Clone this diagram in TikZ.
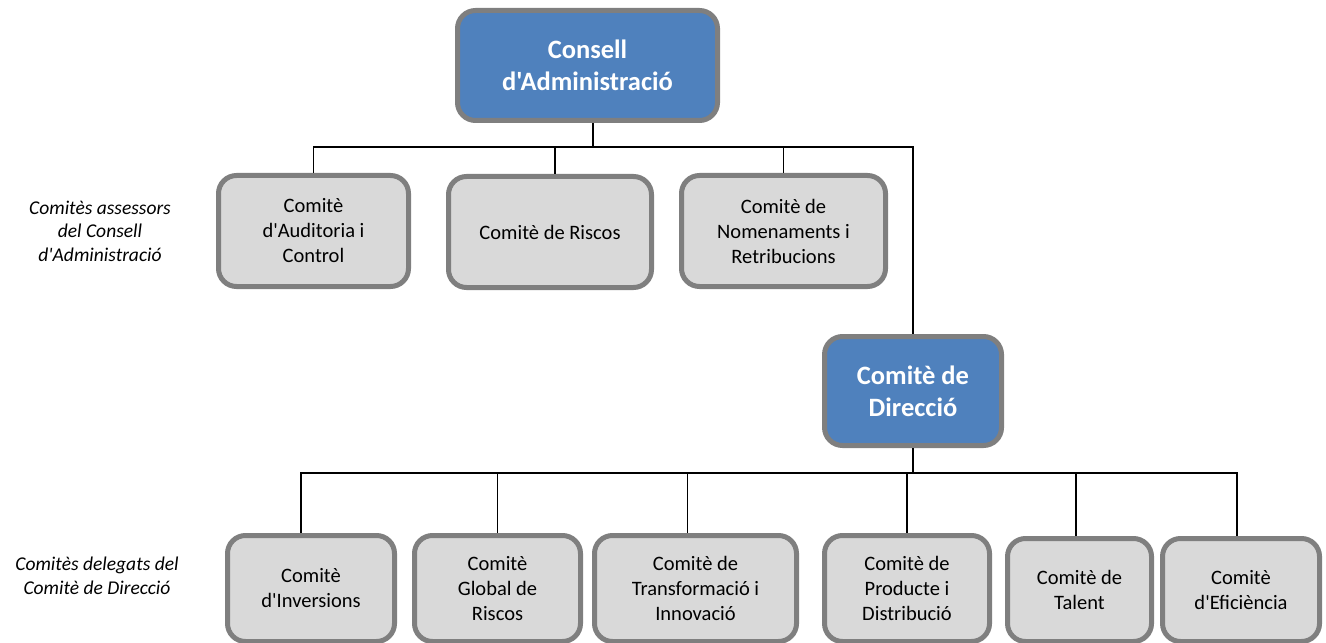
\documentclass[tikz,border=0pt]{standalone}
\usepackage{fontspec}
\setmainfont{Carlito}[Ligatures=TeXOff]
\definecolor{boxblue}{HTML}{4F81BD}
\definecolor{boxgray}{HTML}{D9D9D9}
\definecolor{edgegray}{HTML}{7F7F7F}
\begin{document}
\begin{tikzpicture}[x=1bp,y=-1bp,
  box/.style={draw=edgegray, line width=5bp, rounded corners=18bp, fill=boxgray,
    align=center, inner sep=0pt, font=\fontsize{20.5bp}{25bp}\selectfont},
  headbox/.style={box, fill=boxblue, text=white,
    font=\bfseries\fontsize{26.5bp}{32bp}\selectfont},
  link/.style={draw=black, line width=1.9bp},
  sidelabel/.style={align=center, font=\itshape\fontsize{19.5bp}{23.5bp}\selectfont}]
\useasboundingbox (0,0) rectangle (1326,643);

% top level
\node[headbox, minimum width=260bp, minimum height=110bp] (cons) at (587.5,65.5)
  {Consell\\d'Administració};

% advisory committees
\node[box, minimum width=190bp, minimum height=111bp] (aud) at (313.5,231)
  {Comitè\\d'Auditoria i\\Control};
\node[box, minimum width=203bp, minimum height=111bp] (ris) at (550,232)
  {Comitè de Riscos};
\node[box, minimum width=204bp, minimum height=111bp] (nom) at (783.5,231)
  {Comitè de\\Nomenaments i\\Retribucions};

% direction committee
\node[headbox, minimum width=177bp, minimum height=109bp] (dir) at (913,391)
  {Comitè de\\Direcció};

% delegated committees
\node[box, minimum width=167bp, minimum height=106bp] (inv) at (311,588.5)
  {Comitè\\d'Inversions};
\node[box, minimum width=166bp, minimum height=106bp] (glo) at (497.5,588.5)
  {Comitè\\Global de\\Riscos};
\node[box, minimum width=202bp, minimum height=106bp] (tra) at (695.5,588.5)
  {Comitè de\\Transformació i\\Innovació};
\node[box, minimum width=165bp, minimum height=106bp] (pro) at (907,588.5)
  {Comitè de\\Producte i\\Distribució};
\node[box, minimum width=144bp, minimum height=103bp] (tal) at (1079.5,590)
  {Comitè de\\Talent};
\node[box, minimum width=157bp, minimum height=103bp] (efi) at (1241,590)
  {Comitè\\d'Eficiència};

% side labels
\node[sidelabel] (lab1) at (100,231) {Comitès assessors\\del Consell\\d'Administració};
\node[sidelabel] (lab2) at (97,576) {Comitès delegats del\\Comitè de Direcció};

% connectors
\coordinate (bus1) at (0,147);
\coordinate (bus2) at (0,473);
\coordinate (consc) at ([xshift=5.5bp]cons.south);
\coordinate (risc) at ([xshift=5bp]ris.north);
\coordinate (invc) at ([xshift=-10bp]inv.north);
\coordinate (trac) at ([xshift=-8bp]tra.north);
\coordinate (talc) at ([xshift=-3.5bp]tal.north);
\coordinate (efic) at ([xshift=-4bp]efi.north);

\draw[link] (consc) -- (consc |- bus1);
\draw[link] (aud.north) |- (dir.north |- bus1) -- (dir.north);
\draw[link] (risc) -- (risc |- bus1);
\draw[link] (nom.north) -- (nom.north |- bus1);

\draw[link] (dir.south) -- (dir.south |- bus2);
\draw[link] (invc) |- (efic |- bus2) -- (efic);
\draw[link] (glo.north) -- (glo.north |- bus2);
\draw[link] (trac) -- (trac |- bus2);
\draw[link] (pro.north) -- (pro.north |- bus2);
\draw[link] (talc) -- (talc |- bus2);
\end{tikzpicture}
\end{document}
